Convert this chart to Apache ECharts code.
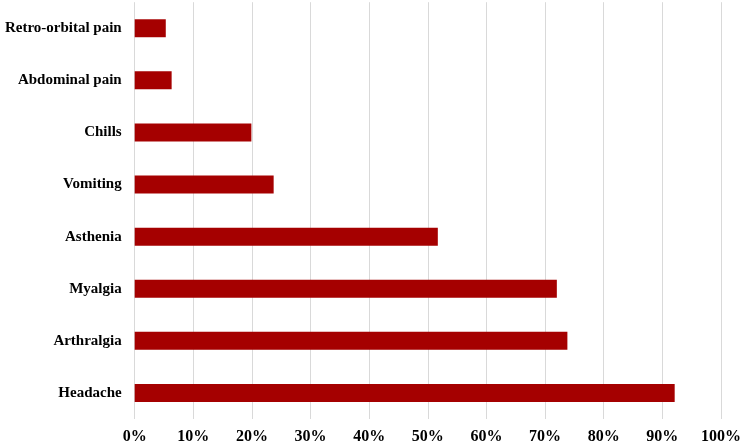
<!DOCTYPE html>
<html>
<head>
<meta charset="utf-8">
<script src="https://cdn.jsdelivr.net/npm/echarts@6/dist/echarts.min.js"></script>
<style>html,body{margin:0;padding:0;background:#fff}#c{width:744px;height:445px}</style>
</head>
<body>
<div id="c"></div>
<script>
const categories = ['Headache', 'Arthralgia', 'Myalgia', 'Asthenia', 'Vomiting', 'Chills', 'Abdominal pain', 'Retro-orbital pain'];
const values = [92.1, 73.8, 72.0, 51.7, 23.7, 19.9, 6.3, 5.3];
const xTicks = [0, 10, 20, 30, 40, 50, 60, 70, 80, 90, 100];

const chart = echarts.init(document.getElementById('c'));
const font = '"Liberation Serif", "Times New Roman", serif';
chart.setOption({
  animation: false,
  grid: { left: 134.7, right: 20.7, top: 2.2, bottom: 25.6, containLabel: false },
  xAxis: {
    type: 'value', min: xTicks[0], max: xTicks[xTicks.length - 1], interval: 10,
    axisLine: { show: false }, axisTick: { show: false },
    splitLine: { show: true, lineStyle: { color: '#d9d9d9', width: 1 } },
    axisLabel: { formatter: v => v + '%', color: '#000', fontFamily: font, fontWeight: 'bold', fontSize: 16, margin: 10 }
  },
  yAxis: {
    type: 'category', data: categories,
    axisLine: { show: false }, axisTick: { show: false },
    axisLabel: { color: '#000', fontFamily: font, fontWeight: 'bold', fontSize: 15, margin: 13 }
  },
  series: [{
    type: 'bar', data: values, barWidth: '34.5%',
    itemStyle: { color: '#A50000' }
  }]
});
</script>
</body>
</html>
